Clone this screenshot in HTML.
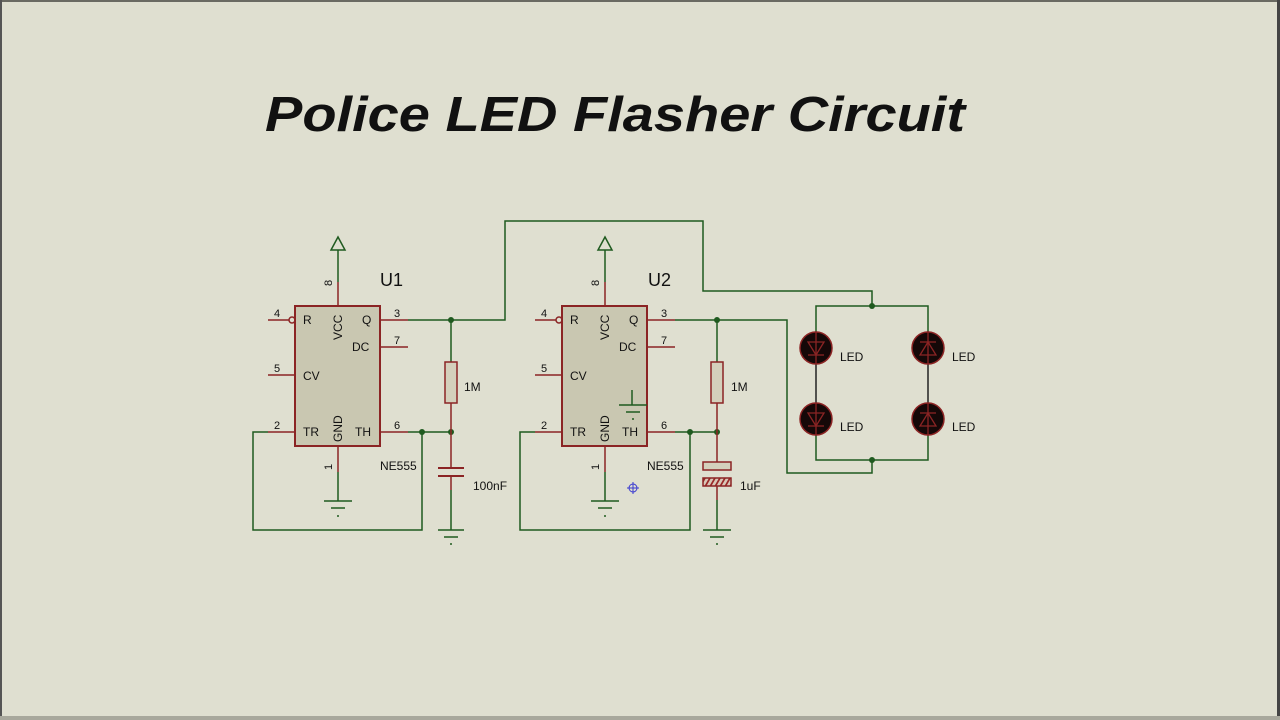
<!DOCTYPE html>
<html><head><meta charset="utf-8"><style>
html,body{margin:0;padding:0;background:#dfdfd0;}
svg{display:block}
text{font-family:"Liberation Sans",sans-serif;fill:#111}
</style></head><body>
<svg width="1280" height="720" viewBox="0 0 1280 720" xmlns="http://www.w3.org/2000/svg">
<defs>
<pattern id="h" width="5" height="8" patternUnits="userSpaceOnUse" patternTransform="skewX(-30)">
<rect width="5" height="8" fill="#d8c8b8"/><rect width="2" height="8" fill="#9b2a2a"/></pattern>
<g id="chip">
 <rect x="295" y="306" width="85" height="140" fill="#c9c7b1" stroke="#8b2424" stroke-width="2"/>
 <g stroke="#8b2424" stroke-width="1.5" fill="none">
  <line x1="268" y1="320" x2="289" y2="320"/><circle cx="292" cy="320" r="3"/>
  <line x1="268" y1="375" x2="295" y2="375"/>
  <line x1="268" y1="432" x2="295" y2="432"/>
  <line x1="380" y1="320" x2="408" y2="320"/>
  <line x1="380" y1="347" x2="408" y2="347"/>
  <line x1="380" y1="432" x2="408" y2="432"/>
  <line x1="338" y1="306" x2="338" y2="282"/>
  <line x1="338" y1="446" x2="338" y2="472"/>
 </g>
 <g stroke="#1f5a1f" stroke-width="1.5" fill="none">
  <line x1="338" y1="282" x2="338" y2="250"/>
  <polygon points="331,250 345,250 338,237"/>
  <line x1="338" y1="472" x2="338" y2="501"/>
  <line x1="324" y1="501" x2="352" y2="501"/>
  <line x1="331" y1="508" x2="345" y2="508"/>
  <line x1="337" y1="516" x2="339" y2="516"/>
 </g>
 <g font-size="12">
  <text x="303" y="324">R</text><text x="362" y="324">Q</text>
  <text x="352" y="351">DC</text><text x="303" y="380">CV</text>
  <text x="303" y="436">TR</text><text x="355" y="436">TH</text>
  <text x="274" y="317" font-size="11">4</text><text x="274" y="372" font-size="11">5</text>
  <text x="274" y="429" font-size="11">2</text><text x="394" y="317" font-size="11">3</text>
  <text x="394" y="344" font-size="11">7</text><text x="394" y="429" font-size="11">6</text>
  <text transform="translate(342,340) rotate(-90)">VCC</text>
  <text transform="translate(342,442) rotate(-90)">GND</text>
  <text transform="translate(332,286) rotate(-90)" font-size="11">8</text>
  <text transform="translate(332,470) rotate(-90)" font-size="11">1</text>
  <text x="380" y="470" font-size="12">NE555</text>
 </g>
</g>
</defs>
<rect x="0" y="0" width="1280" height="2" fill="#6a6a62"/>
<rect x="0" y="0" width="2" height="720" fill="#555"/>
<rect x="1277" y="0" width="3" height="720" fill="#444"/>
<rect x="0" y="716" width="1280" height="4" fill="#a8a89c"/>

<text x="265" y="131" font-size="49" font-weight="bold" font-style="italic" textLength="700" lengthAdjust="spacingAndGlyphs">Police LED Flasher Circuit</text>

<use href="#chip"/>
<use href="#chip" transform="translate(267,0)"/>
<text x="380" y="286" font-size="18">U1</text>
<text x="648" y="286" font-size="18">U2</text>

<g stroke="#1f5a1f" stroke-width="1.5" fill="none">
 <!-- U1 wires -->
 <polyline points="408,320 505,320 505,221 703,221 703,291 872,291 872,306"/>
 <line x1="451" y1="320" x2="451" y2="362"/>
 <line x1="408" y1="432" x2="451" y2="432"/>
 <polyline points="422,432 422,530 253,530 253,432 268,432"/>
 <line x1="451" y1="490" x2="451" y2="530"/>
 <line x1="438" y1="530" x2="464" y2="530"/>
 <line x1="444" y1="537" x2="458" y2="537"/>
 <line x1="450" y1="544" x2="452" y2="544"/>
 <!-- U2 wires -->
 <polyline points="675,320 787,320 787,473 872,473 872,460"/>
 <line x1="717" y1="320" x2="717" y2="362"/>
 <line x1="675" y1="432" x2="717" y2="432"/>
 <polyline points="690,432 690,530 520,530 520,432 535,432"/>
 <line x1="717" y1="500" x2="717" y2="530"/>
 <line x1="703" y1="530" x2="731" y2="530"/>
 <line x1="710" y1="537" x2="724" y2="537"/>
 <line x1="716" y1="544" x2="718" y2="544"/>
 <!-- internal ground in U2 -->
 <line x1="632" y1="390" x2="632" y2="405"/>
 <line x1="619" y1="405" x2="647" y2="405"/>
 <line x1="626" y1="412" x2="640" y2="412"/>
 <line x1="632" y1="419" x2="634" y2="419"/>
 <!-- LED bridge -->
 <polyline points="816,331 816,306 928,306 928,331"/>
 <polyline points="816,436 816,460 928,460 928,436"/>
</g>
<g fill="#1f5a1f">
 <circle cx="451" cy="320" r="3"/><circle cx="451" cy="432" r="3"/><circle cx="422" cy="432" r="3"/>
 <circle cx="717" cy="320" r="3"/><circle cx="717" cy="432" r="3"/><circle cx="690" cy="432" r="3"/>
 <circle cx="872" cy="306" r="3"/><circle cx="872" cy="460" r="3"/>
</g>
<!-- components -->
<g stroke="#8b2424" stroke-width="1.5" fill="none">
 <line x1="451" y1="362" x2="451" y2="403"/>
 <line x1="451" y1="403" x2="451" y2="432"/>
 <line x1="451" y1="432" x2="451" y2="468"/>
 <line x1="451" y1="476" x2="451" y2="490"/>
 <line x1="438" y1="468" x2="464" y2="468" stroke-width="2"/>
 <line x1="438" y1="476" x2="464" y2="476" stroke-width="2"/>
 <line x1="717" y1="403" x2="717" y2="462"/>
 <line x1="717" y1="486" x2="717" y2="500"/>
</g>
<rect x="445" y="362" width="12" height="41" fill="#d4d0bc" stroke="#8b2424" stroke-width="1.5"/>
<rect x="711" y="362" width="12" height="41" fill="#d4d0bc" stroke="#8b2424" stroke-width="1.5"/>
<rect x="703" y="462" width="28" height="8" fill="#d4d0bc" stroke="#8b2424" stroke-width="1.5"/>
<rect x="703" y="478" width="28" height="8" fill="url(#h)" stroke="#8b2424" stroke-width="1.5"/>
<g font-size="12">
 <text x="464" y="391">1M</text><text x="731" y="391">1M</text>
 <text x="473" y="490">100nF</text><text x="740" y="490">1uF</text>
</g>
<!-- crosshair -->
<g stroke="#3a3ad0" stroke-width="1" fill="none">
 <circle cx="633" cy="488" r="4"/><line x1="627" y1="488" x2="639" y2="488"/><line x1="633" y1="482" x2="633" y2="494"/>
</g>
<!-- LEDs -->
<g>
 <line x1="816" y1="331" x2="816" y2="436" stroke="#222" stroke-width="1.5"/>
 <line x1="928" y1="331" x2="928" y2="436" stroke="#222" stroke-width="1.5"/>
 <g stroke="#8b2424" stroke-width="1.5">
  <circle cx="816" cy="348" r="16" fill="#150808"/>
  <circle cx="928" cy="348" r="16" fill="#150808"/>
  <circle cx="816" cy="419" r="16" fill="#150808"/>
  <circle cx="928" cy="419" r="16" fill="#150808"/>
  <g fill="none" stroke-width="1.3">
   <polygon points="808,342 824,342 816,355"/><line x1="808" y1="355" x2="824" y2="355"/><line x1="816" y1="332" x2="816" y2="364"/>
   <polygon points="808,413 824,413 816,426"/><line x1="808" y1="426" x2="824" y2="426"/><line x1="816" y1="403" x2="816" y2="435"/>
   <polygon points="920,355 936,355 928,342"/><line x1="920" y1="342" x2="936" y2="342"/><line x1="928" y1="332" x2="928" y2="364"/>
   <polygon points="920,426 936,426 928,413"/><line x1="920" y1="413" x2="936" y2="413"/><line x1="928" y1="403" x2="928" y2="435"/>
  </g>
 </g>
 <g font-size="12">
  <text x="840" y="361">LED</text><text x="952" y="361">LED</text>
  <text x="840" y="431">LED</text><text x="952" y="431">LED</text>
 </g>
</g>
</svg>
</body></html>
